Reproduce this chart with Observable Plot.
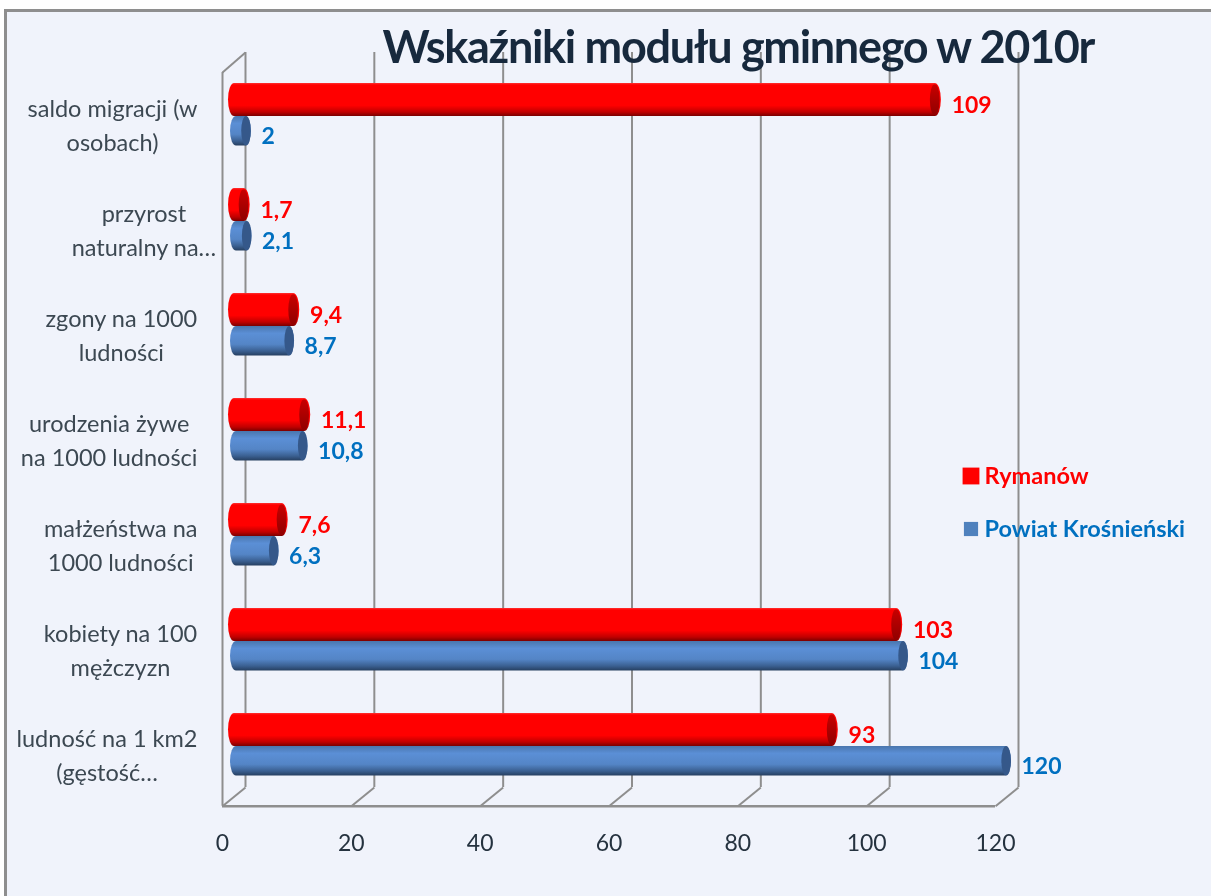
<!DOCTYPE html>
<html lang="pl">
<head>
<meta charset="utf-8">
<script src="https://cdn.jsdelivr.net/npm/d3@7"></script>
<script src="https://cdn.jsdelivr.net/npm/@observablehq/plot@0.6"></script>
<style>
html,body{margin:0;padding:0;background:#fff;overflow:hidden}
#sheet{position:absolute;left:4px;top:9px;right:0;bottom:0;background:#f0f3fb;border-left:3px solid #8e8e8e;border-top:3px solid #8e8e8e}
#chart{position:absolute;left:0;top:0}
#chart svg{filter:blur(0.35px)}
#chart g[font-size="45"]{letter-spacing:-1.32px}
</style>
</head>
<body>
<div id="sheet"></div>
<div id="chart"></div>
<script>
const categories = [
  "saldo migracji (w\nosobach)",
  "przyrost\nnaturalny na…",
  "zgony na 1000\nludności",
  "urodzenia żywe\nna 1000 ludności",
  "małżeństwa na\n1000 ludności",
  "kobiety na 100\nmężczyzn",
  "ludność na 1 km2\n(gęstość…"
];
const rymanow = [109, 1.7, 9.4, 11.1, 7.6, 103, 93];
const powiat = [2, 2.1, 8.7, 10.8, 6.3, 104, 120];
const seriesNames = ["Rymanów", "Powiat Krośnieński"];
const xTicks = [0, 20, 40, 60, 80, 100, 120];
const chartTitle = "Wskaźniki modułu gminnego w 2010r";

const rows = categories.map((c, i) => ({c, i, r: rymanow[i], p: powiat[i]}));
const fmt = v => String(v).replace(".", ",");
const font = "Lato, sans-serif";
const RED = "#ff0000", BLUE = "#0070c0", GRID = "#8e8e8e";
const depth = 3.57, topBack = -0.11, topFront = 0.08, floorBack = 6.89, floorFront = 7.07;
const redBase = -1.66, blueBase = -1.24, capW = 1.5;

// keep multi-line labels centred and their block right-aligned
const ctx = document.createElement("canvas").getContext("2d");
ctx.font = "23.5px Lato";
const labelCenter = d => {
  const w = Math.max(...d.c.split("\n").map(s => ctx.measureText(s).width));
  const right = d.c.includes("naturalny") ? 216 : 197;
  return (right - w / 2 - 222) / 6.44;
};

const defs = () => {
  const ns = "http://www.w3.org/2000/svg";
  const g = document.createElementNS(ns, "defs");
  g.innerHTML = `
  <linearGradient id="rb" x1="0" y1="0" x2="0" y2="1">
    <stop offset="0" stop-color="#ff3030"/><stop offset=".06" stop-color="#ff0000"/>
    <stop offset=".68" stop-color="#ff0000"/><stop offset=".88" stop-color="#c00000"/>
    <stop offset="1" stop-color="#7a0000"/></linearGradient>
  <linearGradient id="bb" x1="0" y1="0" x2="0" y2="1">
    <stop offset="0" stop-color="#4a76ad"/><stop offset=".25" stop-color="#5b8fd6"/>
    <stop offset=".62" stop-color="#5485c6"/><stop offset=".85" stop-color="#3a5f90"/>
    <stop offset="1" stop-color="#263f60"/></linearGradient>
  <linearGradient id="rc" x1="0" y1="0" x2="0" y2="1">
    <stop offset="0" stop-color="#c80000"/><stop offset="1" stop-color="#900000"/></linearGradient>`;
  return g;
};

const redTop = d => d.i + 0.5 - 33 / 105, redBot = d => d.i + 0.5;
const bluTop = d => d.i + 0.5, bluBot = d => d.i + 0.5 + 29.5 / 105;

const plot = Plot.plot({
  width: 1211,
  height: 896,
  marginLeft: 222,
  marginRight: 216,
  marginTop: 63.5,
  marginBottom: 97.5,
  style: {background: "transparent", fontFamily: font},
  x: {domain: [0, 120], axis: null},
  y: {domain: [0, 7], axis: null, reverse: true},
  marks: [
    defs,
    // back wall gridlines
    Plot.ruleX(xTicks, {x: d => d + depth, y1: topBack, y2: floorBack, stroke: GRID, strokeWidth: 2}),
    // side wall and floor
    Plot.ruleX([0], {y1: topFront, y2: floorFront, stroke: GRID, strokeWidth: 2}),
    Plot.link([0], {x1: 0, x2: depth, y1: topFront, y2: topBack, stroke: GRID, strokeWidth: 2}),
    Plot.link(xTicks, {x1: d => d, x2: d => d + depth, y1: floorFront, y2: floorBack, stroke: GRID, strokeWidth: 2}),
    Plot.ruleY([floorFront], {x1: 0, x2: 120, stroke: GRID, strokeWidth: 2.5}),
    // title
    Plot.text([chartTitle], {frameAnchor: "top-left", dx: 160, dy: -33, text: d => d, textAnchor: "start", lineAnchor: "top",
      fontSize: 45, fontWeight: 700, fill: "#17293d", fontFamily: font}),
    // Powiat cylinders
    Plot.rect(rows, {x1: blueBase, x2: "p", y1: bluTop, y2: bluBot, dx: 16, fill: "url(#bb)", rx: 6, ry: 15}),
    Plot.rect(rows, {x1: d => d.p - capW, x2: "p", y1: bluTop, y2: bluBot, dx: 16, fill: "#35588a", rx: 5, ry: 15}),
    // Rymanów cylinders
    Plot.rect(rows, {x1: redBase, x2: "r", y1: redTop, y2: redBot, dx: 16.7, fill: "url(#rb)", rx: 6, ry: 16.5}),
    Plot.rect(rows, {x1: d => d.r - capW - 0.2, x2: d => d.r - 0.2, y1: d => d.i + 0.5 - 31.5 / 105, y2: d => d.i + 0.5 - 1 / 105, dx: 16.7, fill: "url(#rc)", rx: 4.5, ry: 15}),
    // value labels
    Plot.text(rows, {x: "p", y: d => d.i + 0.69, text: d => fmt(d.p), dx: 26, textAnchor: "start", fill: BLUE, fontSize: 23, fontWeight: 700, fontFamily: font}),
    Plot.text(rows, {x: "r", y: d => d.i + 0.395, text: d => fmt(d.r), dx: 27, textAnchor: "start", fill: RED, fontSize: 23, fontWeight: 700, fontFamily: font}),
    // category labels
    Plot.text(rows, {x: labelCenter, y: d => d.i + 0.565, text: "c", textAnchor: "middle", lineHeight: 1.46, fill: "#3c4852", fontSize: 23.5, fontFamily: font}),
    // x axis
    Plot.axisX(xTicks, {anchor: "bottom", tickSize: 0, tickPadding: 36, fontSize: 23, fill: "#25323f", stroke: "none", fontFamily: font, label: null, tickFormat: d => String(d)}),
    // legend
    Plot.dot([seriesNames[0]], {frameAnchor: "top-left", dx: 748.5, dy: 412, symbol: "square", r: 9.5, fill: RED}),
    Plot.dot([seriesNames[1]], {frameAnchor: "top-left", dx: 748.5, dy: 465, symbol: "square", r: 8, fill: "#4f81bd"}),
    Plot.text([seriesNames[0]], {frameAnchor: "top-left", dx: 762, dy: 412, text: d => d, textAnchor: "start", lineAnchor: "middle", fill: RED, fontSize: 23.5, fontWeight: 700, fontFamily: font}),
    Plot.text([seriesNames[1]], {frameAnchor: "top-left", dx: 762, dy: 465, text: d => d, textAnchor: "start", lineAnchor: "middle", fill: BLUE, fontSize: 23.5, fontWeight: 700, fontFamily: font})
  ]
});
document.getElementById("chart").appendChild(plot);
</script>
</body>
</html>
